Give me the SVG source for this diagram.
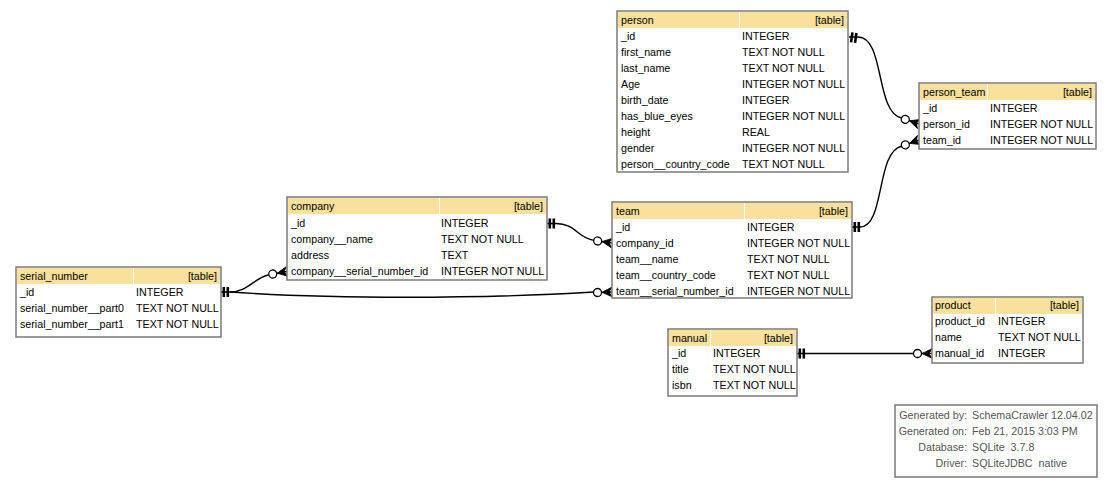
<svg xmlns="http://www.w3.org/2000/svg" xmlns:xlink="http://www.w3.org/1999/xlink" width="1112" height="483" viewBox="0 0 1112 483">
<style>
.tb{fill:#fff;stroke:#7a7a7a;stroke-width:1.5}
.hd{fill:#F9E09C}
text{font-family:"Liberation Sans",Arial,Helvetica,sans-serif;font-size:10.7px;fill:#000}
.r{text-anchor:end}
.edge{fill:none;stroke:#000;stroke-width:1.4}
.lg{fill:#555}
.lgv{fill:#555;white-space:pre}
</style>
<defs>
<g id="tee"><rect x="1.5" y="-5" width="2.6" height="10" fill="#000"/><rect x="5.5" y="-5" width="2.6" height="10" fill="#000"/></g>
<g id="crowO"><circle cx="-14.5" cy="0" r="4" fill="#fff" stroke="#000" stroke-width="1.3"/><line x1="-10.5" y1="0" x2="0" y2="0" stroke="#000" stroke-width="1.4"/><polygon points="-10,0 0,-4.8 -3,0 0,4.8" fill="#000" stroke="#000" stroke-width="0.8" stroke-linejoin="round"/></g>
</defs>
<rect width="1112" height="483" fill="#fff"/>

<g id="connectors">
<path class="edge" d="M849,37 L858,37 C885,37 875,112 901.5,118"/>
<path class="edge" d="M852,227 L860,227 C885,227 876,152 901.5,146.2"/>
<path class="edge" d="M547,223.5 L556,223.5 C575,223.5 578,238 593.7,240.4"/>
<path class="edge" d="M221,292 L230,292 C248,292 254,278 268.8,274.7"/>
<path class="edge" d="M230,292 C330,299 480,299 593.5,292"/>
<path class="edge" d="M797,353.5 L913.5,353.5"/>
<use xlink:href="#tee" transform="translate(849,37) rotate(8)"/>
<use xlink:href="#crowO" transform="translate(919,124) rotate(18.5)"/>
<use xlink:href="#tee" transform="translate(852,227)"/>
<use xlink:href="#crowO" transform="translate(919,140) rotate(-19.6)"/>
<use xlink:href="#tee" transform="translate(547,223.5)"/>
<use xlink:href="#crowO" transform="translate(612,243) rotate(8)"/>
<use xlink:href="#tee" transform="translate(221,292)"/>
<use xlink:href="#crowO" transform="translate(287,271.5) rotate(-10)"/>
<use xlink:href="#crowO" transform="translate(612,292) rotate(-2)"/>
<use xlink:href="#tee" transform="translate(797,353.5)"/>
<use xlink:href="#crowO" transform="translate(932,353.5)"/>
</g>

<g id="person">
<rect class="tb" x="617" y="11" width="231" height="161"/>
<rect class="hd" x="618" y="12" width="121" height="16"/>
<rect class="hd" x="740" y="12" width="107" height="16"/>
<text x="621" y="24">person</text><text class="r" x="844" y="24">[table]</text>
<text x="621" y="40">_id</text><text x="742" y="40">INTEGER</text>
<text x="621" y="56">first_name</text><text x="742" y="56">TEXT NOT NULL</text>
<text x="621" y="72">last_name</text><text x="742" y="72">TEXT NOT NULL</text>
<text x="621" y="88">Age</text><text x="742" y="88">INTEGER NOT NULL</text>
<text x="621" y="104">birth_date</text><text x="742" y="104">INTEGER</text>
<text x="621" y="120">has_blue_eyes</text><text x="742" y="120">INTEGER NOT NULL</text>
<text x="621" y="136">height</text><text x="742" y="136">REAL</text>
<text x="621" y="152">gender</text><text x="742" y="152">INTEGER NOT NULL</text>
<text x="621" y="168">person__country_code</text><text x="742" y="168">TEXT NOT NULL</text>
</g>

<g id="person_team">
<rect class="tb" x="919" y="83" width="177" height="66"/>
<rect class="hd" x="920" y="84" width="67" height="16"/>
<rect class="hd" x="988" y="84" width="107" height="16"/>
<text x="923" y="96">person_team</text><text class="r" x="1092" y="96">[table]</text>
<text x="923" y="112">_id</text><text x="990" y="112">INTEGER</text>
<text x="923" y="128">person_id</text><text x="990" y="128">INTEGER NOT NULL</text>
<text x="923" y="144">team_id</text><text x="990" y="144">INTEGER NOT NULL</text>
</g>

<g id="company">
<rect class="tb" x="287" y="197" width="260" height="83"/>
<rect class="hd" x="288" y="198" width="151" height="16"/>
<rect class="hd" x="440" y="198" width="106" height="16"/>
<text x="291" y="210">company</text><text class="r" x="543" y="210">[table]</text>
<text x="291" y="227">_id</text><text x="441" y="227">INTEGER</text>
<text x="291" y="243">company__name</text><text x="441" y="243">TEXT NOT NULL</text>
<text x="291" y="259">address</text><text x="441" y="259">TEXT</text>
<text x="291" y="275">company__serial_number_id</text><text x="441" y="275">INTEGER NOT NULL</text>
</g>

<g id="team">
<rect class="tb" x="612" y="202" width="240" height="96"/>
<rect class="hd" x="613" y="203" width="131" height="16"/>
<rect class="hd" x="745" y="203" width="106" height="16"/>
<text x="616" y="215">team</text><text class="r" x="848" y="215">[table]</text>
<text x="616" y="231">_id</text><text x="747" y="231">INTEGER</text>
<text x="616" y="247">company_id</text><text x="747" y="247">INTEGER NOT NULL</text>
<text x="616" y="263">team__name</text><text x="747" y="263">TEXT NOT NULL</text>
<text x="616" y="279">team__country_code</text><text x="747" y="279">TEXT NOT NULL</text>
<text x="616" y="295">team__serial_number_id</text><text x="747" y="295">INTEGER NOT NULL</text>
</g>

<g id="serial_number">
<rect class="tb" x="16" y="267" width="205" height="70"/>
<rect class="hd" x="17" y="268" width="116" height="16"/>
<rect class="hd" x="134" y="268" width="86" height="16"/>
<text x="20" y="280">serial_number</text><text class="r" x="217" y="280">[table]</text>
<text x="20" y="296">_id</text><text x="136" y="296">INTEGER</text>
<text x="20" y="312">serial_number__part0</text><text x="136" y="312">TEXT NOT NULL</text>
<text x="20" y="328">serial_number__part1</text><text x="136" y="328">TEXT NOT NULL</text>
</g>

<g id="manual">
<rect class="tb" x="668" y="329" width="129" height="67"/>
<rect class="hd" x="669" y="330" width="41" height="16"/>
<rect class="hd" x="711" y="330" width="85" height="16"/>
<text x="672" y="342">manual</text><text class="r" x="793" y="342">[table]</text>
<text x="672" y="357">_id</text><text x="713" y="357">INTEGER</text>
<text x="672" y="373">title</text><text x="713" y="373">TEXT NOT NULL</text>
<text x="672" y="389">isbn</text><text x="713" y="389">TEXT NOT NULL</text>
</g>

<g id="product">
<rect class="tb" x="932" y="297" width="151" height="66"/>
<rect class="hd" x="933" y="298" width="62" height="16"/>
<rect class="hd" x="996" y="298" width="86" height="16"/>
<text x="935" y="309">product</text><text class="r" x="1079" y="309">[table]</text>
<text x="935" y="325">product_id</text><text x="998" y="325">INTEGER</text>
<text x="935" y="341">name</text><text x="998" y="341">TEXT NOT NULL</text>
<text x="935" y="357">manual_id</text><text x="998" y="357">INTEGER</text>
</g>

<g id="legend">
<rect class="tb" x="895" y="405" width="202" height="72"/>
<text class="lg r" x="967" y="419">Generated by:</text><text class="lgv" x="972" y="419">SchemaCrawler 12.04.02</text>
<text class="lg r" x="967" y="435">Generated on:</text><text class="lgv" x="972" y="435">Feb 21, 2015 3:03 PM</text>
<text class="lg r" x="967" y="451">Database:</text><text class="lgv" x="972" y="451">SQLite  3.7.8</text>
<text class="lg r" x="967" y="467">Driver:</text><text class="lgv" x="972" y="467">SQLiteJDBC  native</text>
</g>
</svg>
